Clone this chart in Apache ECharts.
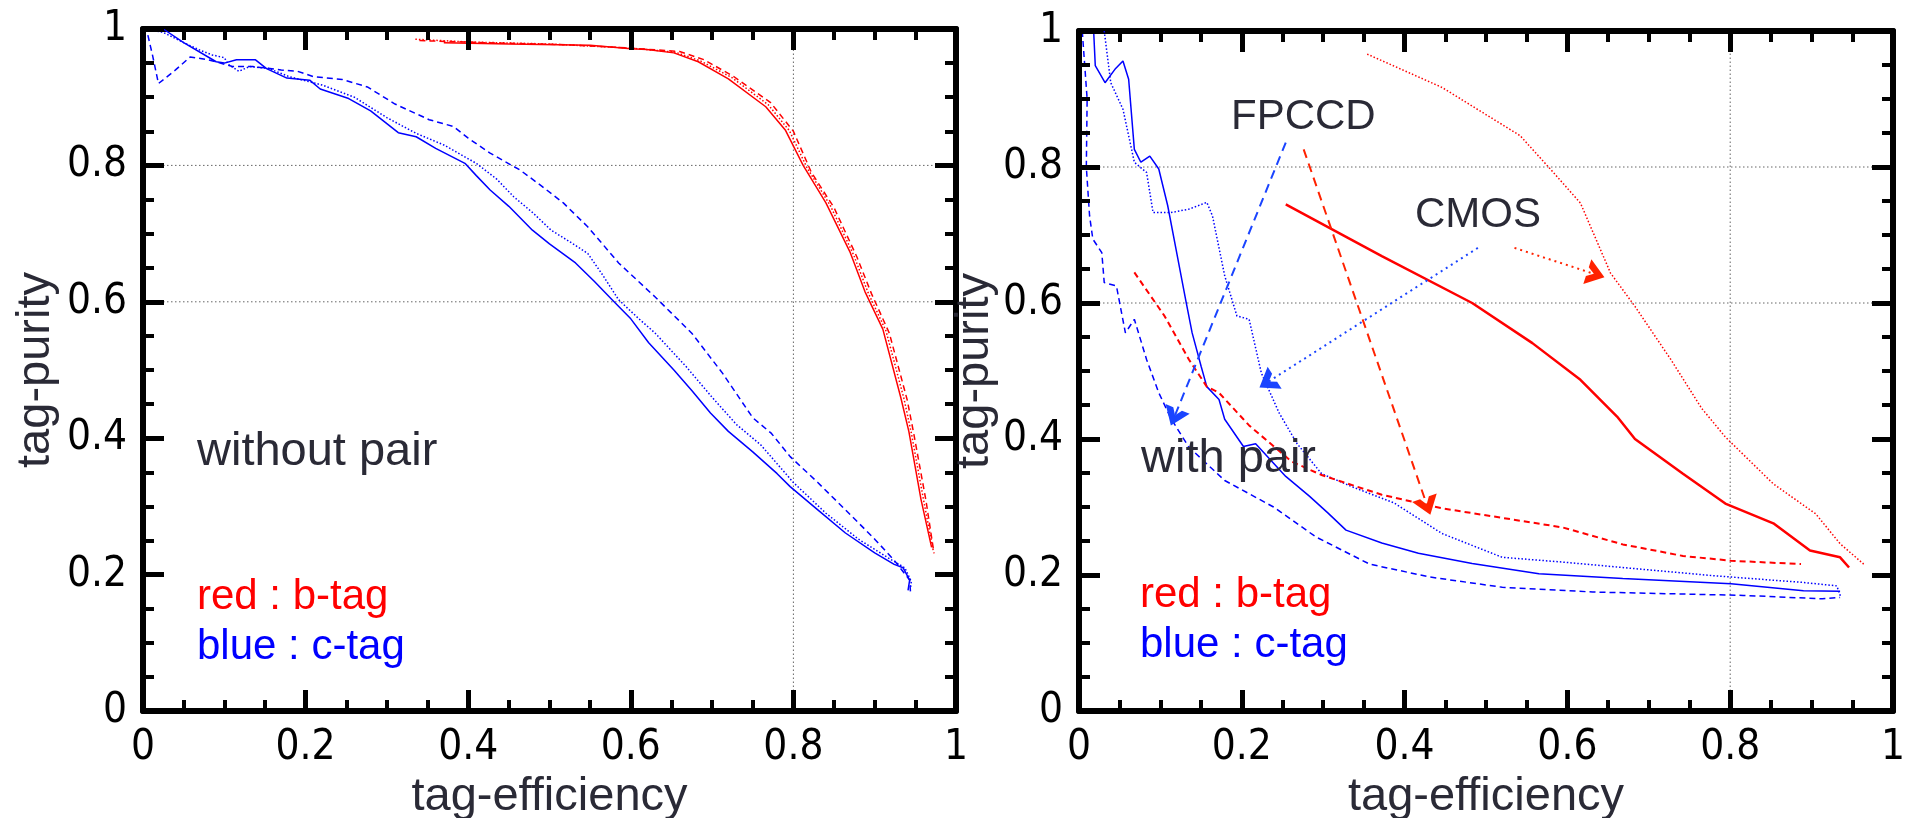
<!DOCTYPE html>
<html>
<head>
<meta charset="utf-8">
<title>tag-purity vs tag-efficiency</title>
<script src="https://cdn.jsdelivr.net/npm/echarts@6/dist/echarts.min.js"></script>
<style>
    html, body { margin: 0; padding: 0; background: #fff; }
    #chart { width: 1905px; height: 818px; }
</style>
</head>
<body>
<div id="chart"></div>
<script>
    // tick labels, same on both panels
    let tickLabels = ['0', '0.2', '0.4', '0.6', '0.8', '1'];
    let majorTicks = [0, 0.2, 0.4, 0.6, 0.8, 1];
    let minorTicks = [0.05, 0.1, 0.15, 0.25, 0.3, 0.35, 0.45, 0.5, 0.55, 0.65, 0.7, 0.75, 0.85, 0.9, 0.95];
    // dotted grid lines
    let gridX = [0.8];
    let gridY = [0.6, 0.8];

    // left panel : without pair
    let leftBlueSolid = [[0.005, 1.0], [0.025, 1.0], [0.05, 0.98], [0.09, 0.952], [0.10, 0.95], [0.115, 0.955], [0.138, 0.955],
        [0.152, 0.942], [0.177, 0.928], [0.205, 0.925], [0.218, 0.912], [0.253, 0.898], [0.28, 0.88], [0.314, 0.848],
        [0.336, 0.842], [0.36, 0.825], [0.396, 0.803], [0.41, 0.785], [0.427, 0.764], [0.45, 0.74], [0.479, 0.705],
        [0.5, 0.685], [0.532, 0.657], [0.555, 0.63], [0.577, 0.603], [0.6, 0.575], [0.622, 0.54], [0.653, 0.50],
        [0.675, 0.47], [0.698, 0.437], [0.72, 0.41], [0.75, 0.38], [0.78, 0.348], [0.796, 0.329], [0.83, 0.295],
        [0.864, 0.261], [0.9, 0.232], [0.924, 0.215], [0.935, 0.21], [0.943, 0.192], [0.941, 0.177]];
    let leftBlueDotted = [[0.005, 1.0], [0.025, 0.995], [0.05, 0.98], [0.07, 0.969], [0.085, 0.962], [0.1, 0.958], [0.105, 0.948],
        [0.118, 0.938], [0.131, 0.945], [0.155, 0.942], [0.18, 0.93], [0.22, 0.918], [0.26, 0.9], [0.3, 0.87],
        [0.336, 0.847], [0.37, 0.83], [0.41, 0.803], [0.435, 0.78], [0.456, 0.754], [0.48, 0.73], [0.502, 0.705],
        [0.525, 0.688], [0.547, 0.671], [0.565, 0.64], [0.585, 0.603], [0.61, 0.575], [0.63, 0.554], [0.668, 0.505],
        [0.7, 0.46], [0.73, 0.42], [0.76, 0.39], [0.8, 0.335], [0.84, 0.29], [0.88, 0.252], [0.92, 0.222],
        [0.937, 0.21], [0.945, 0.19], [0.944, 0.18]];
    let leftBlueDashed = [[0.006, 0.991], [0.012, 0.96], [0.019, 0.92], [0.04, 0.94], [0.058, 0.959], [0.08, 0.955], [0.11, 0.945],
        [0.135, 0.945], [0.17, 0.94], [0.19, 0.938], [0.21, 0.93], [0.245, 0.926], [0.276, 0.915], [0.31, 0.89],
        [0.352, 0.867], [0.382, 0.857], [0.4, 0.84], [0.427, 0.818], [0.464, 0.793], [0.49, 0.77], [0.517, 0.745],
        [0.547, 0.71], [0.565, 0.685], [0.585, 0.657], [0.63, 0.607], [0.675, 0.554], [0.713, 0.495], [0.75, 0.43],
        [0.773, 0.407], [0.796, 0.373], [0.83, 0.335], [0.864, 0.295], [0.9, 0.252], [0.924, 0.221], [0.943, 0.192],
        [0.944, 0.175]];
    let leftRedSolid = [[0.37, 0.98], [0.45, 0.978], [0.55, 0.976], [0.6, 0.971], [0.62, 0.97], [0.653, 0.965], [0.683, 0.952],
        [0.72, 0.927], [0.766, 0.886], [0.79, 0.852], [0.812, 0.8], [0.84, 0.745], [0.87, 0.672], [0.888, 0.615],
        [0.91, 0.56], [0.932, 0.46], [0.942, 0.41], [0.957, 0.31], [0.97, 0.24]];
    let leftRedDotted = [[0.335, 0.985], [0.4, 0.981], [0.5, 0.978], [0.6, 0.972], [0.655, 0.966], [0.686, 0.953], [0.724, 0.929],
        [0.769, 0.889], [0.795, 0.851], [0.817, 0.796], [0.845, 0.742], [0.874, 0.669], [0.892, 0.613], [0.914, 0.557],
        [0.936, 0.458], [0.945, 0.408], [0.96, 0.31], [0.972, 0.235]];
    let leftRedDashed = [[0.34, 0.983], [0.42, 0.98], [0.52, 0.977], [0.6, 0.972], [0.66, 0.967], [0.69, 0.955], [0.727, 0.93],
        [0.772, 0.892], [0.8, 0.85], [0.822, 0.79], [0.85, 0.738], [0.878, 0.666], [0.896, 0.612], [0.918, 0.554],
        [0.94, 0.456], [0.948, 0.407], [0.963, 0.309], [0.973, 0.231]];

    // right panel : with pair
    let rightBlueSolid = [[0.005, 1.0], [0.018, 1.0], [0.02, 0.949], [0.032, 0.924], [0.045, 0.945], [0.054, 0.956], [0.061, 0.929],
        [0.068, 0.826], [0.076, 0.807], [0.087, 0.816], [0.098, 0.797], [0.109, 0.743], [0.12, 0.674], [0.131, 0.605],
        [0.139, 0.556], [0.15, 0.507], [0.157, 0.477], [0.172, 0.458], [0.179, 0.429], [0.202, 0.389], [0.217, 0.393],
        [0.254, 0.345], [0.283, 0.316], [0.306, 0.291], [0.328, 0.266], [0.372, 0.247], [0.417, 0.232], [0.483, 0.217],
        [0.565, 0.202], [0.668, 0.195], [0.801, 0.187], [0.89, 0.177], [0.935, 0.176]];
    let rightBlueDashed = [[0.004, 1.0], [0.01, 0.9], [0.009, 0.8], [0.013, 0.728], [0.017, 0.694], [0.028, 0.674], [0.031, 0.63],
        [0.046, 0.625], [0.057, 0.556], [0.068, 0.576], [0.083, 0.517], [0.098, 0.468], [0.113, 0.43], [0.135, 0.388],
        [0.179, 0.339], [0.239, 0.3], [0.291, 0.256], [0.357, 0.216], [0.431, 0.197], [0.52, 0.182], [0.631, 0.175],
        [0.816, 0.17], [0.913, 0.165], [0.935, 0.167]];
    let rightBlueDotted = [[0.031, 1.0], [0.039, 0.924], [0.054, 0.885], [0.068, 0.807], [0.083, 0.792], [0.091, 0.733],
        [0.113, 0.733], [0.135, 0.738], [0.157, 0.748], [0.164, 0.728], [0.179, 0.64], [0.194, 0.581], [0.209, 0.576],
        [0.224, 0.497], [0.246, 0.438], [0.268, 0.393], [0.298, 0.349], [0.335, 0.33], [0.387, 0.306], [0.446, 0.261],
        [0.52, 0.226], [0.594, 0.219], [0.668, 0.211], [0.779, 0.199], [0.89, 0.189], [0.931, 0.184], [0.936, 0.167]];
    let rightRedSolid = [[0.254, 0.745], [0.372, 0.669], [0.483, 0.6], [0.557, 0.541], [0.616, 0.487], [0.661, 0.433],
        [0.683, 0.4], [0.742, 0.349], [0.794, 0.305], [0.853, 0.276], [0.898, 0.236], [0.935, 0.226], [0.946, 0.211]];
    let rightRedDotted = [[0.354, 0.966], [0.446, 0.917], [0.542, 0.846], [0.579, 0.797], [0.616, 0.747], [0.653, 0.644],
        [0.683, 0.595], [0.727, 0.517], [0.765, 0.445], [0.794, 0.403], [0.853, 0.334], [0.905, 0.29], [0.935, 0.246],
        [0.964, 0.216]];
    let rightRedDashed = [[0.068, 0.645], [0.105, 0.581], [0.135, 0.517], [0.157, 0.477], [0.172, 0.468], [0.202, 0.429],
        [0.209, 0.42], [0.261, 0.367], [0.298, 0.347], [0.372, 0.318], [0.446, 0.298], [0.52, 0.284], [0.594, 0.27],
        [0.668, 0.245], [0.742, 0.228], [0.801, 0.221], [0.887, 0.216]];

    // annotation arrows (from, to)
    let fpccdBlueArrow = [[0.254, 0.836], [0.117, 0.432]];
    let fpccdRedArrow = [[0.276, 0.826], [0.428, 0.301]];
    let cmosBlueArrow = [[0.49, 0.681], [0.231, 0.483]];
    let cmosRedArrow = [[0.535, 0.681], [0.635, 0.642]];

    let numFont = 'DejaVu Sans Condensed';
    let textFont = 'Liberation Sans';
    let textColor = '#2a2a36';
    let RED = '#ff0000';
    let BLUE = '#0000ff';
    let chevron = 'path://M0,10 L5,0 L10,10 L6.8,10 L5,6.2 L3.2,10 Z';
    // plot sizes in px, used for tick lengths and arrow head turn
    let leftW = 813, leftH = 682;
    let rightW = 814, rightH = 680;

    function frameAxis(gridIndex, position, withLabel, name, nameGap) {
        let axis = {
            type: 'value',
            gridIndex: gridIndex,
            position: position,
            min: 0,
            max: 1,
            interval: 0.2,
            axisLine: {show: true, onZero: false, lineStyle: {color: '#000', width: 6}},
            axisTick: {show: false},
            splitLine: {show: false},
            axisLabel: {show: withLabel}
        };
        if (withLabel) {
            axis.axisLabel = {
                show: true,
                margin: 16,
                fontFamily: numFont,
                fontSize: 42,
                color: '#000',
                formatter: function (v) {
                    return tickLabels[Math.round(v / 0.2)];
                }
            };
        }
        if (name) {
            axis.name = name;
            axis.nameLocation = 'middle';
            axis.nameGap = nameGap;
            axis.nameRotate = (position === 'left') ? 90 : 0;
            axis.nameTextStyle = {fontFamily: textFont, fontSize: 47, color: textColor, verticalAlign: 'middle'};
        }
        return axis;
    }

    // inward ticks on the four sides, drawn as short segments
    function tickLines(axisIndex, w, h) {
        let data = [];
        function add(v, minor) {
            let lx = (minor ? 11 : 21) / w;
            let ly = (minor ? 11 : 21) / h;
            let style = {color: '#000', width: minor ? 4 : 5, opacity: 1, type: 'solid'};
            data.push({coords: [[v, 0], [v, ly]], lineStyle: style});
            data.push({coords: [[v, 1], [v, 1 - ly]], lineStyle: style});
            data.push({coords: [[0, v], [lx, v]], lineStyle: style});
            data.push({coords: [[1, v], [1 - lx, v]], lineStyle: style});
        }
        majorTicks.forEach(function (v) { add(v, false); });
        minorTicks.forEach(function (v) { add(v, true); });
        return {
            type: 'lines',
            coordinateSystem: 'cartesian2d',
            xAxisIndex: axisIndex,
            yAxisIndex: axisIndex,
            silent: true,
            clip: false,
            z: 10,
            symbol: ['none', 'none'],
            lineStyle: {color: '#000', width: 5, opacity: 1},
            data: data
        };
    }

    function curve(data, color, dash, width, axisIndex) {
        return {
            type: 'line',
            data: data,
            xAxisIndex: axisIndex,
            yAxisIndex: axisIndex,
            showSymbol: false,
            symbol: 'none',
            lineStyle: {color: color, width: width, type: dash}
        };
    }

    // dotted grid lines as plain line series
    function gridLines(axisIndex) {
        let out = [];
        gridX.forEach(function (v) {
            out.push(curve([[v, 0], [v, 1]], '#666', [1.5, 2.5], 1, axisIndex));
        });
        gridY.forEach(function (v) {
            out.push(curve([[0, v], [1, v]], '#666', [1.5, 2.5], 1, axisIndex));
        });
        out.forEach(function (s) { s.z = 1; s.silent = true; });
        return out;
    }

    function arrow(coords, color, dash) {
        let from = coords[0];
        let to = coords[1];
        let dx = (to[0] - from[0]) * rightW;
        let dy = (to[1] - from[1]) * rightH;
        let angle = Math.atan2(-dx, dy) * 180 / Math.PI;
        return {
            type: 'line',
            xAxisIndex: 2,
            yAxisIndex: 2,
            silent: true,
            z: 4,
            showSymbol: true,
            showAllSymbol: true,
            lineStyle: {color: color, width: 2, type: dash},
            itemStyle: {color: color},
            data: [
                {value: from, symbol: 'none'},
                {value: to, symbol: chevron, symbolSize: [26, 18], symbolRotate: angle}
            ]
        };
    }

    function label(text, x, y, size, color) {
        return {
            text: text,
            left: x,
            top: y - size / 2,
            padding: 0,
            textStyle: {fontFamily: textFont, fontSize: size, fontWeight: 'normal', color: color}
        };
    }

    let chart = echarts.init(document.getElementById('chart'));

    let series = [].concat(
        gridLines(0),
        gridLines(2),
        [
            curve(leftBlueSolid, BLUE, 'solid', 1.5, 0),
            curve(leftBlueDotted, BLUE, [1.5, 2], 1.5, 0),
            curve(leftBlueDashed, BLUE, [6, 4], 1.5, 0),
            curve(leftRedSolid, RED, 'solid', 1.5, 0),
            curve(leftRedDotted, RED, [1.5, 2], 1.5, 0),
            curve(leftRedDashed, RED, [6, 4], 1.5, 0),
            curve(rightBlueSolid, BLUE, 'solid', 1.5, 2),
            curve(rightBlueDotted, BLUE, [1.5, 2], 1.5, 2),
            curve(rightBlueDashed, BLUE, [6, 4], 1.5, 2),
            curve(rightRedSolid, RED, 'solid', 2.5, 2),
            curve(rightRedDotted, RED, [1.5, 2], 1.5, 2),
            curve(rightRedDashed, RED, [6, 4], 2, 2),
            arrow(fpccdBlueArrow, '#1a44ff', [9, 6]),
            arrow(fpccdRedArrow, '#ff2200', [9, 6]),
            arrow(cmosBlueArrow, '#1a44ff', [2, 4]),
            arrow(cmosRedArrow, '#ff2200', [2, 4]),
            tickLines(0, leftW, leftH),
            tickLines(2, rightW, rightH)
        ]
    );

    let option = {
        animation: false,
        title: [
            label('without pair', 197, 452, 47, textColor),
            label('red : b-tag', 197, 597, 42, RED),
            label('blue : c-tag', 197, 647, 42, BLUE),
            label('with pair', 1141, 459, 47, textColor),
            label('red : b-tag', 1140, 595, 42, RED),
            label('blue : c-tag', 1140, 645, 42, BLUE),
            label('FPCCD', 1231, 117, 42, textColor),
            label('CMOS', 1415, 215, 42, textColor)
        ],
        grid: [
            {left: 143, top: 29, width: leftW, height: leftH, outerBoundsMode: 'none'},
            {left: 1079, top: 31, width: rightW, height: rightH, outerBoundsMode: 'none'}
        ],
        xAxis: [
            frameAxis(0, 'bottom', true, 'tag-efficiency', 71),
            frameAxis(0, 'top', false),
            frameAxis(1, 'bottom', true, 'tag-efficiency', 80),
            frameAxis(1, 'top', false)
        ],
        yAxis: [
            frameAxis(0, 'left', true, 'tag-purity', 107),
            frameAxis(0, 'right', false),
            frameAxis(1, 'left', true, 'tag-purity', 89),
            frameAxis(1, 'right', false)
        ],
        series: series
    };

    chart.setOption(option);
</script>
</body>
</html>
